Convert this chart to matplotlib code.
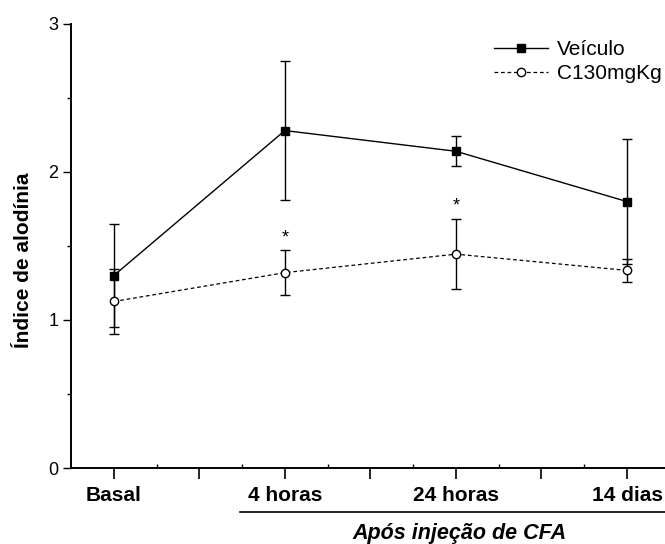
import matplotlib
matplotlib.use("Agg")
import matplotlib.pyplot as plt
import matplotlib.transforms as mtransforms
from matplotlib.ticker import MultipleLocator, FixedLocator, NullFormatter

plt.rcParams['font.family'] = ['Liberation Sans', 'DejaVu Sans']

groups = ["Basal", "4 horas", "24 horas", "14 dias"]
veiculo_mean = [1.30, 2.28, 2.14, 1.80]
veiculo_err = [0.35, 0.47, 0.10, 0.42]
c130_mean = [1.125, 1.32, 1.445, 1.335]
c130_err = [0.22, 0.15, 0.235, 0.075]
signif = [False, True, True, False]

x = list(range(len(groups)))

fig = plt.figure(figsize=(6.65, 5.44), dpi=100)
ax = fig.add_axes([0.1068, 0.1397, 0.9004, 0.8162])

# error bars first so the markers sit on top
ax.errorbar(x, veiculo_mean, yerr=veiculo_err, fmt='none', ecolor='black',
            elinewidth=1, capsize=3.5, capthick=1, zorder=2)
ax.errorbar(x, c130_mean, yerr=c130_err, fmt='none', ecolor='black',
            elinewidth=1, capsize=3.5, capthick=1, zorder=2)

ax.plot(x, veiculo_mean, color='black', lw=1, marker='s', ms=5.5,
        mfc='black', mec='black', label='Veículo', zorder=3)
ax.plot(x, c130_mean, color='black', lw=0.9, dashes=(3, 2.2), marker='o',
        ms=6, mfc='white', mec='black', mew=1, label='C130mgKg', zorder=3)

for xi, m, e, s in zip(x, c130_mean, c130_err, signif):
    if s:
        ax.text(xi, m + e + 0.03, '*', ha='center', va='bottom', fontsize=13)

ax.set_xlim(-0.25, 3.25)
ax.set_ylim(0, 3)

for side in ['top', 'right']:
    ax.spines[side].set_visible(False)
for side in ['left', 'bottom']:
    ax.spines[side].set_linewidth(1.4)

ax.yaxis.set_major_locator(MultipleLocator(1))
ax.yaxis.set_minor_locator(MultipleLocator(0.5))
ax.tick_params(axis='y', which='major', direction='out', length=6, width=1,
               labelsize=13, pad=3)
ax.tick_params(axis='y', which='minor', direction='out', length=3, width=1)

ax.xaxis.set_major_locator(FixedLocator([0, 0.5, 1, 1.5, 2, 2.5, 3]))
ax.xaxis.set_minor_locator(FixedLocator([0.25, 0.75, 1.25, 1.75, 2.25, 2.75]))
ax.set_xticklabels(['Basal', '', '4 horas', '', '24 horas', '', '14 dias'],
                   fontsize=15, fontweight='bold')
ax.xaxis.set_minor_formatter(NullFormatter())
ax.tick_params(axis='x', which='major', direction='out', length=8, width=1.2, pad=5)
ax.tick_params(axis='x', which='minor', direction='in', length=3, width=1)

fig.text(0.036, 0.522, 'Índice de alodínia', rotation=90, ha='center',
         va='center', fontsize=15, fontweight='bold')

# bracket line under the post-injection groups
trans = mtransforms.blended_transform_factory(ax.transData, ax.transAxes)
ax.plot([0.74, 3.3], [-0.099, -0.099], color='black', lw=1.2,
        transform=trans, clip_on=False)
ax.text(2.02, -0.147, 'Após injeção de CFA', transform=trans, ha='center',
        va='center', fontsize=15.5, fontweight='bold', style='italic')

ax.legend(loc='upper left', bbox_to_anchor=(494 / 665, 1 - 40 / 544),
          bbox_transform=fig.transFigure, frameon=False, fontsize=15,
          handlelength=2.6, handletextpad=0.4, labelspacing=0.25,
          borderpad=0, borderaxespad=0)

fig.savefig('out.png', dpi=100)
